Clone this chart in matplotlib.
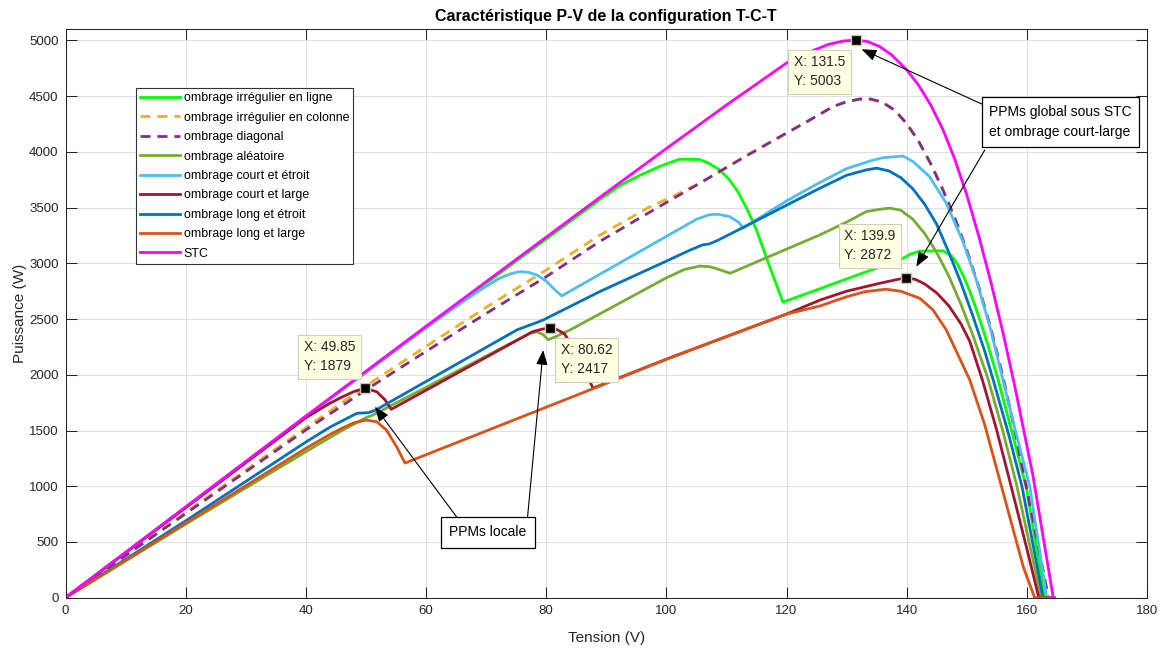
import matplotlib
matplotlib.use("Agg")
import matplotlib.pyplot as plt

plt.rcParams['font.family'] = ['Liberation Sans', 'DejaVu Sans']

# ---- P-V curves (tension in V, puissance in W) ----
v_ligne = [0, 20, 40, 60, 80, 88.9, 92, 95.6, 98.9, 102.2, 105.5, 107, 108.9, 110.5,
           111.9, 113.5, 115, 117.2, 119.4, 125.6, 132, 138.9, 140.5, 142.2, 146.1, 147.5,
           148.5, 149.5, 150.5, 151.5, 152.5, 153.5, 155.2, 157.5, 159.9, 163.0, 164.5]
p_ligne = [0, 812, 1622, 2425, 3218, 3571, 3690, 3790, 3870, 3935, 3932, 3900, 3837, 3750,
           3643, 3480, 3299, 2970, 2652, 2773, 2900, 3030, 3080, 3110, 3112, 3065,
           2990, 2880, 2750, 2600, 2440, 2270, 1960, 1490, 996, 0, 0]

v_colonne = [0, 20, 40, 50, 60, 70, 80, 88.9, 97, 101.5, 103.5, 105.6, 113, 120, 124, 127.8,
             130, 132.2, 134, 136, 138, 140, 142, 144, 146, 148, 150, 152, 154, 156, 158,
             160, 163.6, 164.5]
p_colonne = [0, 765, 1525, 1900, 2255, 2605, 2940, 3252, 3500, 3612, 3668, 3720, 3955, 4169,
             4290, 4408, 4450, 4474, 4474, 4444, 4374, 4254, 4094, 3894, 3664, 3408, 3118,
             2788, 2418, 1988, 1498, 968, 0, 0]

v_diag = [0, 20, 40, 50, 60, 70, 80, 88.9, 97, 105.6, 113, 120, 124, 127.8, 130, 132.2,
          134, 136, 138, 140, 142, 144, 146, 148, 150, 152, 154, 156, 158, 160, 163.6, 164.5]
p_diag = [0, 755, 1505, 1865, 2210, 2550, 2880, 3196, 3452, 3720, 3955, 4169, 4290, 4408,
          4450, 4474, 4474, 4444, 4374, 4254, 4094, 3894, 3664, 3408, 3118, 2788, 2418,
          1988, 1498, 968, 0, 0]

v_alea = [0, 20, 40, 46, 50, 51.2, 77.3, 78.5, 79.5, 80.3, 81.5, 84, 100, 103, 105.5, 107.2,
          108.5, 110.6, 125.5, 130, 133.3, 135.5, 137.2, 139, 141, 143, 145, 147, 149, 151,
          153.5, 156, 158.3, 162.4, 164.5]
p_alea = [0, 660, 1310, 1500, 1615, 1640, 2373, 2385, 2360, 2315, 2340, 2403, 2870, 2945,
          2975, 2970, 2950, 2911, 3254, 3370, 3465, 3485, 3495, 3477, 3397, 3267, 3097,
          2887, 2637, 2357, 1970, 1495, 1012, 0, 0]

v_ce = [0, 20, 40, 60, 66, 69, 72, 74, 75.6, 77, 78.5, 80, 81.5, 82.6, 105, 107.2, 108.6,
        110.5, 112, 112.8, 120, 125, 130, 134, 136, 139.4, 141.1, 143.8, 146.6, 149.4,
        151.6, 153.9, 155.5, 158, 160.5, 163.3, 164.5]
p_ce = [0, 810, 1620, 2420, 2650, 2760, 2860, 2905, 2926, 2920, 2895, 2840, 2760, 2708,
        3395, 3437, 3440, 3420, 3370, 3318, 3560, 3710, 3850, 3920, 3947, 3963, 3912,
        3778, 3539, 3190, 2850, 2420, 2070, 1520, 996, 0, 0]

v_cl = [0, 20, 40, 44, 46, 48, 49.85, 51.8, 53.2, 54.2, 77.8, 79.5, 80.62, 81.8, 83, 84.5,
        86, 87.8, 100, 110, 120, 125.6, 130, 135.5, 139.9, 141.5, 143, 145, 147, 149,
        150.5, 152.6, 155, 157.4, 160, 162.0, 164.5]
p_cl = [0, 808, 1615, 1745, 1800, 1850, 1879, 1848, 1774, 1690, 2388, 2412, 2417, 2405,
        2370, 2250, 2080, 1880, 2140, 2343, 2545, 2671, 2750, 2821, 2872, 2855, 2815,
        2735, 2620, 2460, 2300, 1954, 1500, 996, 440, 0, 0]

v_le = [0, 20.2, 40.1, 44, 48.5, 50.4, 51.5, 75.1, 77.3, 77.8, 79.5, 88.9, 100, 104, 106,
        107.2, 108.5, 112.2, 125.5, 130, 133.3, 135, 137, 139, 141, 143, 145, 147, 149,
        151, 153, 154.4, 157, 159.2, 162.7, 164.5]
p_le = [0, 697, 1400, 1530, 1655, 1660, 1680, 2402, 2447, 2456, 2492, 2746, 3020, 3120,
        3165, 3175, 3205, 3306, 3673, 3790, 3839, 3854, 3830, 3770, 3670, 3530, 3350,
        3100, 2830, 2530, 2210, 1954, 1460, 996, 0, 0]

v_ll = [0, 20, 40, 44, 46, 48, 50, 51.8, 53.4, 55.1, 56.5, 88, 100, 110, 120, 125.6, 130,
        133, 136.5, 139, 142.2, 144.4, 146.6, 150.5, 153, 159.4, 161.3, 164.5]
p_ll = [0, 670, 1340, 1465, 1520, 1570, 1594, 1579, 1505, 1355, 1208, 1880, 2140, 2343,
        2545, 2618, 2700, 2745, 2768, 2750, 2686, 2581, 2402, 1954, 1550, 278, 0, 0]

v_stc = [0, 20, 40, 60, 80, 88.9, 100, 110, 120, 124, 127, 129.5, 131.5, 133.5, 135.5,
         137.5, 140, 142, 144, 146, 148, 150, 152, 154, 156, 158, 161, 164.4, 164.5]
p_stc = [0, 815, 1630, 2435, 3235, 3591, 4030, 4420, 4797, 4900, 4965, 4995, 5003, 4990,
         4946, 4870, 4737, 4597, 4421, 4205, 3935, 3615, 3245, 2835, 2385, 1895, 1100, 0, 0]

labels = ['ombrage irrégulier en ligne', 'ombrage irrégulier en colonne',
          'ombrage diagonal', 'ombrage aléatoire', 'ombrage court et étroit',
          'ombrage court et large', 'ombrage long et étroit', 'ombrage long et large', 'STC']
colors = ['#00FF00', '#EDB120', '#7E2F8E', '#77AC30', '#4DBEEE',
          '#A2142F', '#0072BD', '#D95319', '#FF00FF']
dashed = [False, True, True, False, False, False, False, False, False]
series = [(v_ligne, p_ligne), (v_colonne, p_colonne), (v_diag, p_diag), (v_alea, p_alea),
          (v_ce, p_ce), (v_cl, p_cl), (v_le, p_le), (v_ll, p_ll), (v_stc, p_stc)]

# data tips (V, P)
tips_v = [49.85, 80.62, 131.5, 139.9]
tips_p = [1879, 2417, 5003, 2872]
tips_txt = ['X: 49.85\nY: 1879', 'X: 80.62\nY: 2417', 'X: 131.5\nY: 5003', 'X: 139.9\nY: 2872']
tips_box = [(43.9, 2160), (86.7, 2136), (125.5, 4720), (133.9, 3156)]

fig = plt.figure(figsize=(11.64, 6.48), dpi=100)
ax = fig.add_axes([0.0563, 0.0776, 0.9291, 0.8772])

for (v, p), lab, c, d in zip(series, labels, colors, dashed):
    if d:
        ax.plot(v, p, color=c, lw=2.0, linestyle=(0, (3.6, 2.5)), label=lab)
    else:
        ax.plot(v, p, color=c, lw=2.0, label=lab)

ax.set_xlim(0, 180)
ax.set_ylim(0, 5100)
ax.set_xticks(range(0, 181, 20))
ax.set_yticks(range(0, 5001, 500))
ax.grid(True, color='#DFDFDF', lw=0.7)
ax.set_axisbelow(True)
ax.tick_params(direction='in', length=8, width=0.75, top=True, right=True,
               labelsize=9.5, colors='#262626', pad=5)
for s in ax.spines.values():
    s.set_linewidth(0.75)
    s.set_color('#262626')

ax.set_xlabel('Tension (V)', fontsize=11, color='#262626', labelpad=10)
ax.set_ylabel('Puissance (W)', fontsize=11, color='#262626', labelpad=1.5)
ax.set_title('Caractéristique P-V de la configuration T-C-T', fontsize=11.5,
             fontweight='bold', family=['Liberation Sans Narrow', 'Liberation Sans'],
             color='black', pad=6)

leg = ax.legend(loc='upper left', bbox_to_anchor=(0.0652, 0.8967), fontsize=8.9,
                frameon=True, fancybox=False, framealpha=1, edgecolor='#333333',
                handlelength=3.24, labelspacing=0.6, borderpad=0.35, handletextpad=0.25,
                borderaxespad=0)
leg.get_frame().set_linewidth(0.8)

# data tips
for tv, tp, tt, (bx, by) in zip(tips_v, tips_p, tips_txt, tips_box):
    ax.plot([tv], [tp], marker='s', ms=7, mfc='black', mec='#C8C8A8', mew=1, zorder=6)
    ax.text(bx, by, tt, fontsize=10, ha='center', va='center', multialignment='left',
            color='#262626', zorder=7, linespacing=1.45,
            bbox=dict(boxstyle='square,pad=0.4', fc='#FFFFE1', ec='#CFCFBF', lw=0.8))

# annotations
arrow = dict(arrowstyle='-|>,head_length=0.9,head_width=0.35', lw=0.8, color='black',
             shrinkA=0, shrinkB=0)
ax.annotate('', xy=(51.5, 1714), xytext=(65.1, 724), arrowprops=arrow, zorder=8)
ax.annotate('', xy=(79.5, 2222), xytext=(76.9, 724), arrowprops=arrow, zorder=8)
ax.text(70.3, 588, 'PPMs locale', fontsize=10, ha='center', va='center', zorder=9,
        bbox=dict(boxstyle='square,pad=0.6', fc='white', ec='black', lw=0.9))

ax.annotate('', xy=(132.5, 4921), xytext=(152.8, 4422), arrowprops=arrow, zorder=8)
ax.annotate('', xy=(141.6, 2970), xytext=(153.0, 4017), arrowprops=arrow, zorder=8)
ax.text(165.6, 4268, 'PPMs global sous STC\net ombrage court-large', fontsize=10,
        ha='center', va='center', multialignment='left', zorder=9, linespacing=1.6,
        bbox=dict(boxstyle='square,pad=0.55', fc='white', ec='black', lw=0.9))

fig.savefig('out.png', dpi=100, facecolor='white')
